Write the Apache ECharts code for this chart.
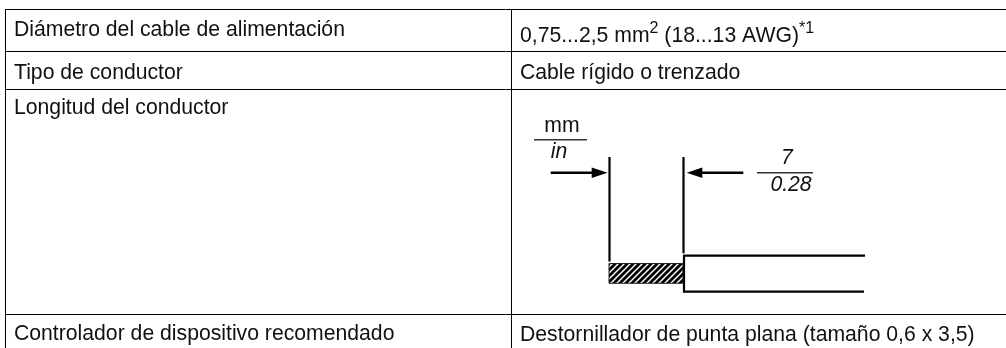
<!DOCTYPE html>
<html>
<head>
<meta charset="utf-8">
<style>html,body{margin:0;padding:0;background:#fff}#c{width:1006px;height:348px}</style>
<script src="https://cdn.jsdelivr.net/npm/echarts@6/dist/echarts.min.js"></script>
</head>
<body>
<div id="c"></div>
<script>
// Table structure
const rowRules = [9.5, 51.5, 89.5, 314.5];
const columnRules = [5.5, 511.5];
const tableLeft = 5, tableRight = 1006, tableTop = 9, tableBottom = 348;

// Table text: [x, middle-y, text]
const cellTexts = [
  [14, 30.5, 'Diámetro del cable de alimentación'],
  [14, 73.5, 'Tipo de conductor'],
  [14, 108.5, 'Longitud del conductor'],
  [14, 334.5, 'Controlador de dispositivo recomendado'],
  [520, 73.5, 'Cable rígido o trenzado'],
  [520, 335, 'Destornillador de punta plana (tamaño 0,6 x 3,5)']
];
const wireGaugeText = [520, 34, '{a|0,75...2,5 mm}{s|2}{a| (18...13 AWG)}{t|*1}'];

// Diagram: dimension labels [x, middle-y, text, italic]
const dimensionLabels = [
  [562, 126.5, 'mm', false],
  [559, 152.5, 'in', true],
  [787, 158.5, '7', true],
  [791, 185.5, '0.28', true]
];
const fractionBars = [[534, 139.7, 587, 139.7], [757, 172.7, 813, 172.7]];
const wireStrokes = [
  [609.5, 157, 609.5, 261.5],
  [683.5, 157, 683.5, 253.3],
  [684, 255.7, 865, 255.7],
  [684, 291.7, 864, 291.7],
  [684, 254.7, 684, 292.7]
];
const leaderStrokes = [
  [550.7, 172.7, 595, 172.7],
  [700, 172.7, 743.3, 172.7]
];
const arrowHeads = [
  [[607.5, 172.7], [591.7, 167.5], [591.7, 177.9]],
  [[686.7, 172.7], [702.3, 167.5], [702.3, 177.9]]
];
const strippedEnd = [609, 263.5, 683, 283.3];

function hatch() {
  const c = document.createElement('canvas');
  c.width = c.height = 6;
  const g = c.getContext('2d');
  g.fillStyle = '#000'; g.fillRect(0, 0, 6, 6);
  g.strokeStyle = '#fff'; g.lineWidth = 1.5;
  [[-1, 1, 1, -1], [-1, 7, 7, -1], [5, 7, 7, 5]].forEach(s => {
    g.beginPath(); g.moveTo(s[0], s[1]); g.lineTo(s[2], s[3]); g.stroke();
  });
  return c;
}
const hatchImage = hatch();

const chart = echarts.init(document.getElementById('c'), null, {renderer: 'canvas'});
const FONT = '"Liberation Sans", Arial, sans-serif';
const SIZE = 21.2;

function seg(api, s, width, color) {
  const a = api.coord([s[0], s[1]]), b = api.coord([s[2], s[3]]);
  return {type: 'line', shape: {x1: a[0], y1: a[1], x2: b[0], y2: b[1]},
    style: {stroke: color, lineWidth: width}, silent: true};
}
function txt(api, d, extra) {
  const p = api.coord([d[0], d[1]]);
  return {type: 'text', x: p[0], y: p[1], silent: true,
    style: Object.assign({text: d[2], fill: '#111', fontFamily: FONT, fontSize: SIZE,
      align: 'left', verticalAlign: 'middle'}, extra || {})};
}

chart.setOption({
  animation: false,
  backgroundColor: '#fff',
  grid: {left: 0, right: 0, top: 0, bottom: 0},
  xAxis: {type: 'value', min: 0, max: 1006, show: false},
  yAxis: {type: 'value', min: 0, max: 348, inverse: true, show: false},
  series: [
    {
      type: 'custom', coordinateSystem: 'cartesian2d', clip: false, silent: true,
      data: [0],
      encode: {x: 0},
      renderItem: function (params, api) {
        const children = [];
        rowRules.forEach(y => children.push(seg(api, [tableLeft, y, tableRight, y], 1, '#000')));
        columnRules.forEach(x => children.push(seg(api, [x, tableTop, x, tableBottom], 1, '#000')));
        const r0 = api.coord([strippedEnd[0], strippedEnd[1]]), r1 = api.coord([strippedEnd[2], strippedEnd[3]]);
        children.push({type: 'rect', shape: {x: r0[0], y: r0[1], width: r1[0] - r0[0], height: r1[1] - r0[1]},
          style: {fill: {image: hatchImage, repeat: 'repeat'}, stroke: '#222', lineWidth: 1}});
        wireStrokes.forEach(s => children.push(seg(api, s, 2.2, '#000')));
        leaderStrokes.forEach(s => children.push(seg(api, s, 2.5, '#000')));
        fractionBars.forEach(s => children.push(seg(api, s, 1.5, '#333')));
        arrowHeads.forEach(h => children.push({type: 'polygon',
          shape: {points: h.map(p => api.coord(p))}, style: {fill: '#000'}}));
        cellTexts.forEach(d => children.push(txt(api, d)));
        children.push(txt(api, wireGaugeText, {rich: {
          a: {fontFamily: FONT, fontSize: SIZE, fill: '#111', lineHeight: 30, verticalAlign: 'bottom', padding: [0,0,2,0]},
          s: {fontFamily: FONT, fontSize: 16, fill: '#111', lineHeight: 30, verticalAlign: 'top', padding: [2,0,0,0]},
          t: {fontFamily: FONT, fontSize: 16, fill: '#111', lineHeight: 30, verticalAlign: 'top', padding: [2,0,0,0]}
        }}));
        dimensionLabels.forEach(d => children.push(txt(api, d, {align: 'center', fontStyle: d[3] ? 'italic' : 'normal'})));
        return {type: 'group', children: children};
      }
    }
  ]
});
</script>
</body>
</html>
